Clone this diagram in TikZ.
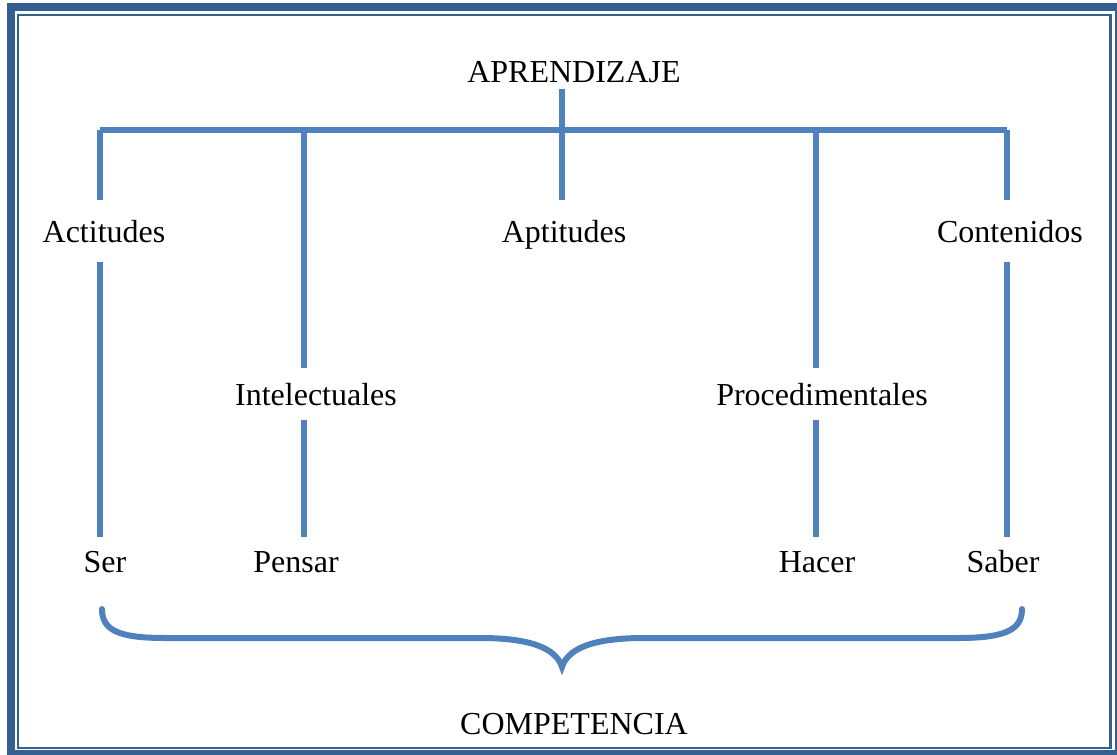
\documentclass[tikz,border=0pt]{standalone}
\usepackage{fontspec}
\setmainfont{Liberation Serif}
\definecolor{linea}{HTML}{4F81BD}
\definecolor{marco}{HTML}{365F91}

\begin{document}
\begin{tikzpicture}[x=0.75pt,y=-0.75pt,
  lbl/.style={inner xsep=2pt,inner ysep=0pt,text height=19pt,text depth=2pt,
    font=\fontsize{24}{28}\selectfont},
  conn/.style={draw=linea,line width=4.5pt}]
\useasboundingbox (0,0) rectangle (1117,755);

% marco doble
\draw[marco,line width=6pt] (11,7) rectangle (1119,754);
\draw[marco,line width=2pt] (18,15) rectangle (1110.5,748);

% textos
\node[lbl,outer ysep=3pt] (apren) at (574,71) {APRENDIZAJE};

\node[lbl,outer ysep=12.75pt] (actitudes) at (104,231) {Actitudes};
\node[lbl,outer ysep=12.75pt] (aptitudes) at (564,231) {Aptitudes};
\node[lbl,outer ysep=12.75pt] (contenidos) at (1010,231) {Contenidos};

\node[lbl,outer ysep=9pt] (intelectuales) at (316,394) {Intelectuales};
\node[lbl,outer ysep=9pt] (procedimentales) at (822,394) {Procedimentales};

\node[lbl,outer ysep=7.5pt] (ser) at (105,561) {Ser};
\node[lbl,outer ysep=7.5pt] (pensar) at (296,561) {Pensar};
\node[lbl,outer ysep=7.5pt] (hacer) at (817,561) {Hacer};
\node[lbl,outer ysep=7.5pt] (saber) at (1003,561) {Saber};

\node[lbl] (competencia) at (574,723) {COMPETENCIA};

% barra superior
\coordinate (barC) at (562,130);
\draw[conn] (100,130) -- (1007,130);
\draw[conn] (apren.south -| barC) -- (barC);

\foreach \x/\n in {100/actitudes, 304/intelectuales, 562/aptitudes,
                   816/procedimentales, 1007/contenidos}
 {
   \coordinate (t\n) at (\x,130);
   \draw[conn] (t\n) -- (t\n |- \n.north);
 }

\foreach \a/\b in {actitudes/ser, intelectuales/pensar,
                   procedimentales/hacer, contenidos/saber}
   \draw[conn] (\a.south -| t\a) -- (\b.north -| t\a);

% llave
\coordinate (llaveI) at (102,609);
\coordinate (pico) at (562,667);
\coordinate (llaveD) at (1022,609);
\draw[conn,line cap=round] (llaveI) .. controls (102,630) and (118,638) .. (165,638)
  -- (480,638) .. controls (530,638) and (556,648) .. (pico)
  .. controls (568,648) and (594,638) .. (644,638)
  -- (958,638) .. controls (1005,638) and (1022,630) .. (llaveD);

\end{tikzpicture}
\end{document}
